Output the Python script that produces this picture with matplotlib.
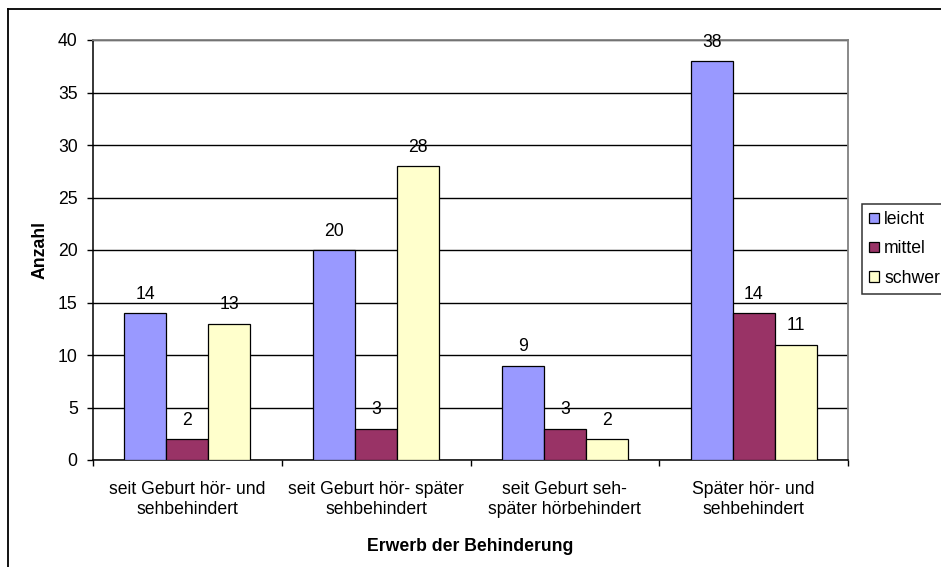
import matplotlib
matplotlib.use("Agg")
import matplotlib.pyplot as plt
from matplotlib.lines import Line2D
from matplotlib.patches import Patch
import numpy as np

plt.rcParams['font.family'] = ['Liberation Sans', 'DejaVu Sans']

categories = ["seit Geburt hör- und\nsehbehindert",
              "seit Geburt hör- später\nsehbehindert",
              "seit Geburt seh-\nspäter hörbehindert",
              "Später hör- und\nsehbehindert"]
series_names = ["leicht", "mittel", "schwer"]
leicht = [14, 20, 9, 38]
mittel = [2, 3, 3, 14]
schwer = [13, 28, 2, 11]
colors = ["#9999FF", "#993366", "#FFFFCC"]
yticks = [0, 5, 10, 15, 20, 25, 30, 35, 40]

FS = 12.7

fig = plt.figure(figsize=(9.41, 5.67), dpi=100)
ax = fig.add_axes([93/941, 1-460/567, (848-93)/941, (460-40)/567])

x = np.arange(len(categories))
w = 1/4.5
for i, (vals, c) in enumerate(zip([leicht, mittel, schwer], colors)):
    pos = x + (i-1)*w
    ax.bar(pos, vals, width=w, color=c, edgecolor="black", linewidth=0.9, zorder=3)
    for p, v in zip(pos, vals):
        ax.annotate(str(v), (p, v), xytext=(0, 7.5), textcoords="offset points",
                    ha="center", va="bottom", fontsize=FS, zorder=4)

ax.set_xlim(-0.5, len(categories)-0.5)
ax.set_ylim(0, 40)
ax.set_yticks(yticks)
ax.yaxis.grid(True, color="black", linewidth=1.0, zorder=0)
ax.set_axisbelow(True)
ax.set_xticks(x)
ax.set_xticklabels(categories, fontsize=FS, linespacing=1.25)
ax.tick_params(axis="x", length=0, pad=15)
ax.set_xticks(np.arange(len(categories)+1)-0.5, minor=True)
ax.tick_params(axis="x", which="minor", length=4, width=1.0, direction="out")
ax.tick_params(axis="y", length=4, width=1.0, labelsize=FS, pad=7)

for s in ["top", "right"]:
    ax.spines[s].set_color("#808080")
    ax.spines[s].set_linewidth(1.3)
for s in ["left", "bottom"]:
    ax.spines[s].set_color("black")
    ax.spines[s].set_linewidth(1.1)

ax.set_ylabel("Anzahl", fontsize=FS, fontweight="bold", labelpad=7)
ax.set_xlabel("Erwerb der Behinderung", fontsize=FS, fontweight="bold", labelpad=14)

# outer chart border (left and top edges visible)
fig.add_artist(Line2D([8/941, 8/941], [0, 1-9/567], color="black", linewidth=1.3, transform=fig.transFigure))
fig.add_artist(Line2D([8/941, 1], [1-9/567, 1-9/567], color="black", linewidth=1.3, transform=fig.transFigure))

handles = [Patch(facecolor=c, edgecolor="black", linewidth=0.9) for c in colors]
leg = fig.legend(handles, series_names, loc="upper left",
                 bbox_to_anchor=(862/941, 1-204/567), fontsize=FS,
                 frameon=True, fancybox=False, edgecolor="black",
                 handlelength=0.55, handleheight=0.55, handletextpad=0.3,
                 labelspacing=0.7, borderpad=0.4, borderaxespad=0)
leg.get_frame().set_linewidth(1.1)

fig.savefig("out.png", dpi=100)
